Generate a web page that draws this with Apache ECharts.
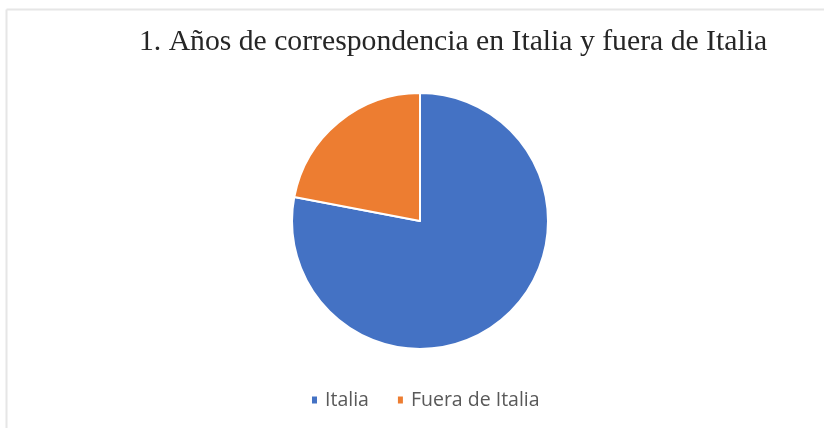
<!DOCTYPE html>
<html>
<head>
<meta charset="utf-8">
<script src="https://cdn.jsdelivr.net/npm/echarts@6/dist/echarts.min.js"></script>
<style>html,body{margin:0;padding:0;background:#fff;}#c{width:824px;height:428px;}</style>
</head>
<body>
<div id="c"></div>
<script>
const titleText = '1. Años de correspondencia en Italia y fuera de Italia';
const categories = ['Italia', 'Fuera de Italia'];
const values = [78, 22];
const colors = ['#4472C4', '#ED7D31'];

const chart = echarts.init(document.getElementById('c'));
chart.setOption({
  backgroundColor: '#fff',
  animation: false,
  color: colors,
  title: {
    text: titleText,
    left: 448, top: 22, textAlign: 'center',
    textStyle: { fontFamily: 'Liberation Serif', fontSize: 29.7, fontWeight: 'normal', color: '#262626' }
  },
  legend: {
    top: 385, left: 305,
    icon: 'rect', itemWidth: 7, itemHeight: 9, itemGap: 27,
    textStyle: { fontFamily: 'Open Sans', fontSize: 19.5, color: '#595959', padding: [0, 0, 0, 2] },
    data: categories
  },
  graphic: [
    { type: 'line', shape: { x1: 6.5, y1: 9.5, x2: 824, y2: 9.5 }, style: { stroke: '#e6e6e6', lineWidth: 2 } },
    { type: 'line', shape: { x1: 6.5, y1: 9.5, x2: 6.5, y2: 428 }, style: { stroke: '#e6e6e6', lineWidth: 2 } }
  ],
  series: [{
    type: 'pie',
    center: [420, 221],
    radius: 128,
    startAngle: 90,
    clockwise: true,
    label: { show: false },
    labelLine: { show: false },
    itemStyle: { borderColor: '#fff', borderWidth: 2 },
    data: categories.map((n, i) => ({ name: n, value: values[i] }))
  }]
});
</script>
</body>
</html>
